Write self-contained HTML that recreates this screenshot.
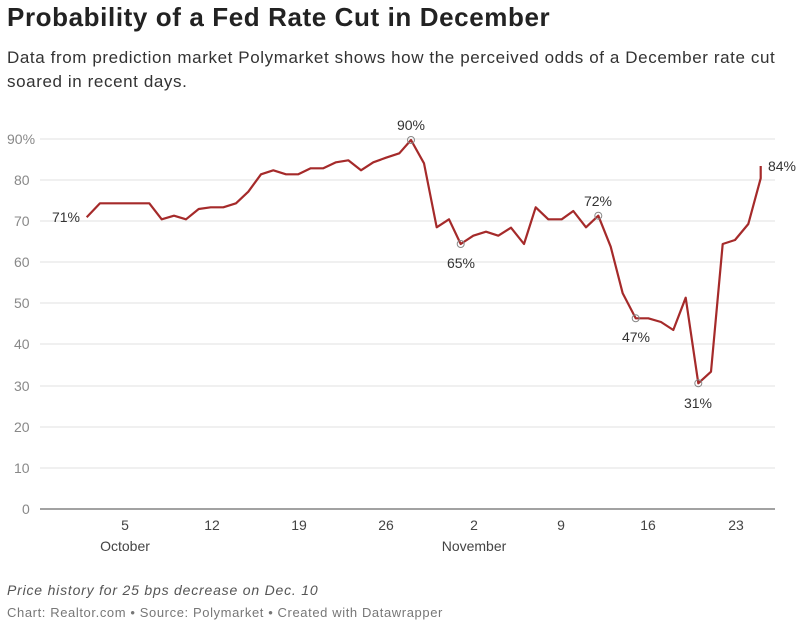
<!DOCTYPE html>
<html><head><meta charset="utf-8"><style>
body{margin:0;background:#fff;width:800px;height:630px;overflow:hidden;font-family:"Liberation Sans",sans-serif}
h1{position:absolute;left:7px;top:2px;margin:0;font-size:26px;font-weight:bold;color:#222;letter-spacing:0.6px;white-space:nowrap}
.sub{position:absolute;left:7px;top:46px;font-size:17px;line-height:24px;color:#333;width:792px;letter-spacing:0.6px}
.note{position:absolute;left:7px;top:582px;font-size:14px;font-style:italic;color:#555;letter-spacing:0.8px}
.src{position:absolute;left:7px;top:605px;font-size:13px;color:#777;letter-spacing:0.6px}
</style></head><body>
<h1>Probability of a Fed Rate Cut in December</h1>
<div class="sub">Data from prediction market Polymarket shows how the perceived odds of a December rate cut<br>soared in recent days.</div>
<svg width="800" height="630" style="position:absolute;left:0;top:0" font-family="Liberation Sans, sans-serif">
<g stroke="#e0e0e0" stroke-width="1">
<line x1="40" x2="775" y1="139" y2="139"/><line x1="40" x2="775" y1="180" y2="180"/><line x1="40" x2="775" y1="221" y2="221"/><line x1="40" x2="775" y1="262" y2="262"/><line x1="40" x2="775" y1="303" y2="303"/><line x1="40" x2="775" y1="344" y2="344"/><line x1="40" x2="775" y1="386" y2="386"/><line x1="40" x2="775" y1="427" y2="427"/><line x1="40" x2="775" y1="468" y2="468"/>
</g>
<line x1="40" x2="775" y1="509" y2="509" stroke="#444" stroke-width="1"/>
<g fill="#888" font-size="14">
<text x="7" y="144">90%</text><text x="14" y="185">80</text><text x="14" y="226">70</text><text x="14" y="267">60</text><text x="14" y="308">50</text><text x="14" y="349">40</text><text x="14" y="391">30</text><text x="14" y="432">20</text><text x="14" y="473">10</text><text x="22" y="514">0</text>
</g>
<g fill="#444" font-size="14" text-anchor="middle">
<text x="125" y="530">5</text><text x="212" y="530">12</text><text x="299" y="530">19</text><text x="386" y="530">26</text><text x="474" y="530">2</text><text x="561" y="530">9</text><text x="648" y="530">16</text><text x="736" y="530">23</text>
<text x="125" y="551">October</text><text x="474" y="551">November</text>
</g>
<polyline fill="none" stroke="#a52a2a" stroke-width="2.2" stroke-linejoin="round" points="86.7,217.3 100,203.3 149.3,203.3 161.7,219.3 174,215.7 186,219.3 198.7,209 210.7,207.3 223.3,207.3 236,203.3 248.3,191.7 261,174.3 273.3,170.3 286,174.3 298.3,174.3 310.7,168.3 323.3,168.3 336,162.3 348.3,160.3 361,170.3 373.3,162.3 386,157.7 399.3,153.3 411,140 424,163.3 436.7,227.3 449,219.3 460.7,244 473.3,235.7 486,231.7 498.3,235.7 511,227.7 524,244 535.7,207.3 548.3,219.3 561.7,219.3 573.3,211 586,227.3 598.3,215.7 610.7,246.7 622.7,293.3 635.7,318.3 648.3,318.3 661,322 673.3,330 685.7,297.7 698.3,383.3 711,371.7 722.7,244 735,240 748.3,224 760.7,178.3 760.7,166"/>
<g fill="none" stroke="#888" stroke-width="1">
<circle cx="411" cy="140" r="3.5"/><circle cx="460.7" cy="244" r="3.5"/><circle cx="598.3" cy="215.7" r="3.5"/><circle cx="635.7" cy="318.3" r="3.5"/><circle cx="698.3" cy="383.3" r="3.5"/>
</g>
<g fill="#333" font-size="14" text-anchor="middle">
<text x="411" y="130">90%</text><text x="461" y="268">65%</text><text x="598" y="206">72%</text><text x="636" y="342">47%</text><text x="698" y="408">31%</text>
<text x="66" y="222">71%</text><text x="782" y="171">84%</text>
</g>
</svg>
<div class="note">Price history for 25 bps decrease on Dec. 10</div>
<div class="src">Chart: Realtor.com • Source: Polymarket • Created with Datawrapper</div>
</body></html>
